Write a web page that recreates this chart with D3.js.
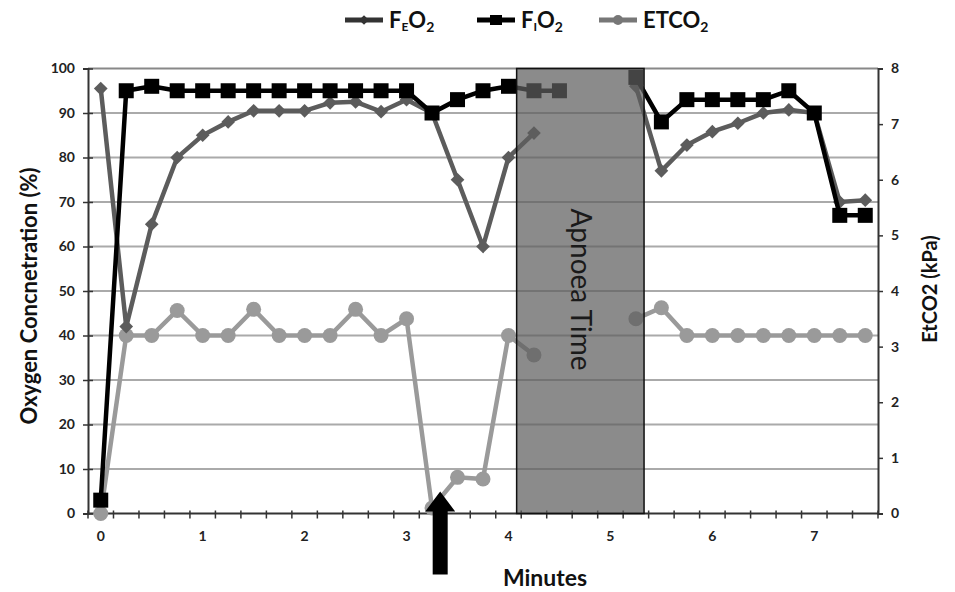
<!DOCTYPE html>
<html>
<head>
<meta charset="utf-8">
<script src="https://cdn.jsdelivr.net/npm/d3@7"></script>
<style>
  body { margin: 0; background: #fff; }
  text { font-family: Lato, "Open Sans", sans-serif; }
</style>
</head>
<body>
<div id="chart"></div>
<script>
// sample times (minutes), one every 15 s
const minutes = d3.range(31).map(i => i * 0.25);
// null = no reading (apnoea)
const fio2 = [3, 95, 96, 95, 95, 95, 95, 95, 95, 95, 95, 95, 95, 90, 93, 95,
  96, 95, 95, null, null, 98, 88, 93, 93, 93, 93, 95, 90, 67, 67];
const feo2 = [95.5, 42, 65, 80, 85, 88, 90.5, 90.5, 90.5, 92.3, 92.5, 90.3, 93, 90, 75, 60,
  80, 85.5, null, null, null, 96, 77, 82.8, 85.8, 87.7, 90, 90.7, 90, 70, 70.4];
const etco2 = [0, 3.2, 3.2, 3.65, 3.2, 3.2, 3.67, 3.2, 3.2, 3.2, 3.67, 3.2, 3.5, 0.1, 0.65, 0.62,
  3.2, 2.85, null, null, null, 3.5, 3.7, 3.2, 3.2, 3.2, 3.2, 3.2, 3.2, 3.2, 3.2];
const xTickLabels = [0, 1, 2, 3, 4, 5, 6, 7];
const leftTicks = d3.range(0, 101, 10);
const rightTicks = d3.range(0, 9, 1);
const apnoea = [4.08, 5.33];
const arrowAt = 3.33;

const width = 955, height = 592;
const margin = {top: 68.5, right: 77, bottom: 78.5, left: 88};
const innerW = width - margin.left - margin.right;
const innerH = height - margin.top - margin.bottom;

const svg = d3.select('#chart').append('svg')
  .attr('width', width).attr('height', height);
const g = svg.append('g')
  .attr('transform', 'translate(' + margin.left + ',' + margin.top + ')');

const x = d3.scaleLinear().domain([-0.125, 7.625]).range([0, innerW]);
const yL = d3.scaleLinear().domain([0, 100]).range([innerH, 0]);
const yR = d3.scaleLinear().domain([0, 8]).range([innerH, 0]);

// gridlines
g.append('g').selectAll('line').data(leftTicks.filter(d => d > 0)).join('line')
  .attr('x1', 0).attr('x2', innerW)
  .attr('y1', d => yL(d)).attr('y2', d => yL(d))
  .attr('stroke', d => d === 100 ? '#888' : '#aaa').attr('stroke-width', 2);

// left axis
const axL = g.append('g').call(d3.axisLeft(yL).tickValues(leftTicks).tickSize(5).tickPadding(8));
axL.selectAll('.tick line').attr('x2', 5).attr('x1', -5).attr('stroke', '#333').attr('stroke-width', 1.5);
axL.select('.domain').attr('stroke', '#333').attr('stroke-width', 2);
axL.selectAll('text').attr('font-size', 14).attr('font-weight', 'bold').attr('fill', '#222');

// right axis
const axR = g.append('g').attr('transform', 'translate(' + innerW + ',0)')
  .call(d3.axisRight(yR).tickValues(rightTicks).tickSize(5).tickPadding(8));
axR.selectAll('.tick line').attr('stroke', '#333').attr('stroke-width', 1.5);
axR.select('.domain').attr('stroke', '#333').attr('stroke-width', 2);
axR.selectAll('text').attr('font-size', 14).attr('font-weight', 'bold').attr('fill', '#222');

// bottom axis: minor ticks at category boundaries, labels at whole minutes
const bounds = d3.range(32).map(i => i * 0.25 - 0.125);
const axB = g.append('g').attr('transform', 'translate(0,' + innerH + ')');
axB.append('line').attr('x1', 0).attr('x2', innerW).attr('stroke', '#333').attr('stroke-width', 2);
axB.selectAll('.mt').data(bounds).join('line').attr('class', 'mt')
  .attr('x1', d => x(d)).attr('x2', d => x(d)).attr('y1', -3).attr('y2', 5)
  .attr('stroke', '#333').attr('stroke-width', 1.5);
axB.selectAll('.lab').data(xTickLabels).join('text').attr('class', 'lab')
  .attr('x', d => x(d)).attr('y', 27).attr('text-anchor', 'middle')
  .attr('font-size', 14).attr('font-weight', 'bold').attr('fill', '#222')
  .text(d => d);

// series
const rows = minutes.map((m, i) => ({m, fio2: fio2[i], feo2: feo2[i], etco2: etco2[i]}));
const mkLine = (key, scale) => d3.line()
  .defined(d => d[key] !== null)
  .x(d => x(d.m)).y(d => scale(d[key]));

const cFe = '#5c5c5c', cFi = '#000', cEt = '#9a9a9a';

g.append('path').datum(rows).attr('d', mkLine('etco2', yR))
  .attr('fill', 'none').attr('stroke', cEt).attr('stroke-width', 4.5);
g.selectAll('.et').data(rows.filter(d => d.etco2 !== null)).join('circle').attr('class', 'et')
  .attr('cx', d => x(d.m)).attr('cy', d => yR(d.etco2)).attr('r', 7.5).attr('fill', cEt);

g.append('path').datum(rows).attr('d', mkLine('feo2', yL))
  .attr('fill', 'none').attr('stroke', cFe).attr('stroke-width', 4.5);
g.selectAll('.fe').data(rows.filter(d => d.feo2 !== null)).join('path').attr('class', 'fe')
  .attr('d', d3.symbol(d3.symbolDiamond2, 120))
  .attr('transform', d => 'translate(' + x(d.m) + ',' + yL(d.feo2) + ')').attr('fill', cFe);

g.append('path').datum(rows).attr('d', mkLine('fio2', yL))
  .attr('fill', 'none').attr('stroke', cFi).attr('stroke-width', 4.5);
g.selectAll('.fi').data(rows.filter(d => d.fio2 !== null)).join('rect').attr('class', 'fi')
  .attr('x', d => x(d.m) - 7.5).attr('y', d => yL(d.fio2) - 7.5)
  .attr('width', 15).attr('height', 15).attr('fill', cFi);

// apnoea box drawn over the data
g.append('rect')
  .attr('x', x(apnoea[0])).attr('y', 0)
  .attr('width', x(apnoea[1]) - x(apnoea[0])).attr('height', innerH)
  .attr('fill', '#5e5e5e').attr('fill-opacity', 0.72)
  .attr('stroke', '#111').attr('stroke-width', 1.5);
g.append('text')
  .attr('transform', 'translate(' + (x((apnoea[0] + apnoea[1]) / 2) - 9) + ',' + 221 + ') rotate(90)')
  .attr('text-anchor', 'middle').attr('font-family', 'Liberation Sans, Arial, sans-serif')
  .attr('font-size', 28).attr('fill', '#1a1a1a').text('Apnoea Time');

// arrow marking the event
const ax0 = x(arrowAt);
const arrow = d3.path();
arrow.moveTo(ax0, innerH - 22);
arrow.lineTo(ax0 + 15, innerH - 2);
arrow.lineTo(ax0 + 7.5, innerH - 2);
arrow.lineTo(ax0 + 7.5, innerH + 61);
arrow.lineTo(ax0 - 7.5, innerH + 61);
arrow.lineTo(ax0 - 7.5, innerH - 2);
arrow.lineTo(ax0 - 15, innerH - 2);
arrow.closePath();
g.append('path').attr('d', arrow.toString()).attr('fill', '#000');

// axis titles
svg.append('text')
  .attr('transform', 'translate(37,296) rotate(-90)')
  .attr('text-anchor', 'middle').attr('font-size', 22).attr('font-weight', 'bold').attr('fill', '#111')
  .text('Oxygen Concnetration (%)');
svg.append('text')
  .attr('transform', 'translate(937,289) rotate(-90)')
  .attr('text-anchor', 'middle').attr('font-size', 20).attr('font-weight', 'bold').attr('fill', '#111')
  .text('EtCO2 (kPa)');
svg.append('text')
  .attr('x', 545).attr('y', 586).attr('text-anchor', 'middle')
  .attr('font-size', 23).attr('font-weight', 'bold').attr('fill', '#111')
  .text('Minutes');

// legend
const legend = [
  {name: 'F', sub: 'E', rest: 'O', sub2: '2', color: '#333', marker: 'diamond', x: 345},
  {name: 'F', sub: 'I', rest: 'O', sub2: '2', color: '#000', marker: 'square', x: 477},
  {name: 'ETCO', sub: '', rest: '', sub2: '2', color: '#777', marker: 'circle', x: 599}
];
const lg = svg.append('g');
legend.forEach(l => {
  const item = lg.append('g').attr('transform', 'translate(' + l.x + ',20)');
  item.append('line').attr('x1', 0).attr('x2', 38).attr('stroke', l.color).attr('stroke-width', 5);
  if (l.marker === 'diamond') {
    item.append('path').attr('d', d3.symbol(d3.symbolDiamond2, 60)).attr('transform', 'translate(19,0)').attr('fill', l.color);
  } else if (l.marker === 'square') {
    item.append('rect').attr('x', 13).attr('y', -5).attr('width', 12).attr('height', 10).attr('fill', l.color);
  } else {
    item.append('circle').attr('cx', 19).attr('r', 5).attr('fill', l.color);
  }
  const t = item.append('text').attr('x', 44).attr('y', 8)
    .attr('font-family', 'Liberation Sans, Arial, sans-serif').attr('font-weight', 'bold')
    .attr('font-size', 22).attr('fill', '#111');
  t.append('tspan').text(l.name);
  if (l.sub) t.append('tspan').attr('font-size', 12).attr('dy', 3).text(l.sub);
  if (l.rest) t.append('tspan').attr('dy', l.sub ? -3 : 0).text(l.rest);
  t.append('tspan').attr('font-size', 14).attr('dy', 4).text(l.sub2);
});
</script>
</body>
</html>
